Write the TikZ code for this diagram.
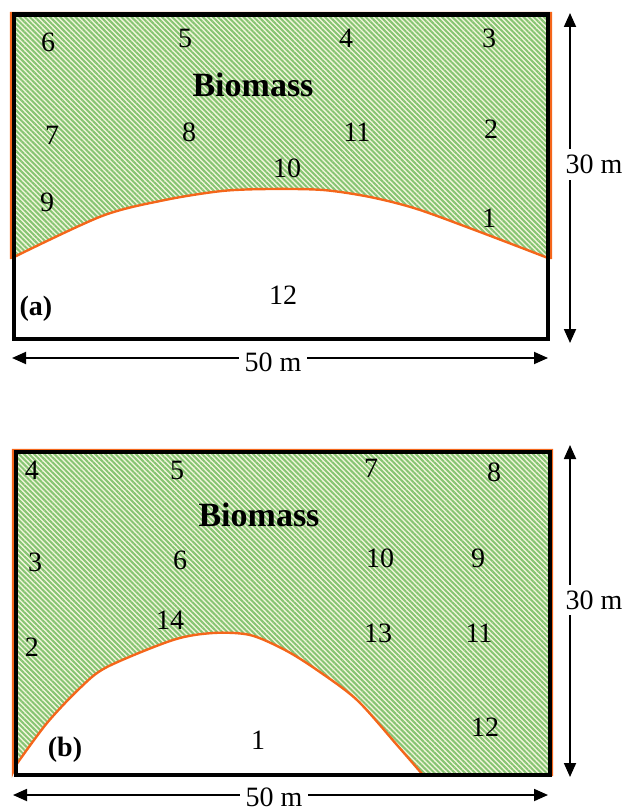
\documentclass[tikz,border=0pt]{standalone}
\usepackage{fontspec}
\setmainfont{Liberation Serif}
\usetikzlibrary{patterns.meta,arrows.meta}
\definecolor{biomass-green}{HTML}{86C472}
\definecolor{biomass-cream}{HTML}{F3F6DC}
\definecolor{edge-orange}{HTML}{F4661B}

\begin{document}
\begin{tikzpicture}[x=0.5pt, y=-0.5pt,
    every node/.style={font=\fontsize{14}{16}\selectfont, inner sep=1pt},
    hatch/.style={preaction={fill=biomass-cream},
      pattern={Lines[angle=-45,distance=1.8pt,line width=1pt]}, pattern color=biomass-green,
      draw=edge-orange, line width=1.2pt},
    frame/.style={draw=black, line width=2.3pt},
    dim/.style={{Triangle[length=7pt,width=6pt]}-{Triangle[length=7pt,width=6pt]}, line width=0.9pt},
    gap/.style={fill=white, inner sep=3pt},
    title/.style={font=\fontsize{17}{20}\selectfont\bfseries}]
  \useasboundingbox (0,0) rectangle (624,812);
  % (a)
  \path[hatch] (11,13) -- (551,13) -- (551,258)
    -- plot[smooth, tension=0.5] coordinates {(548,258) (480,232) (417,209) (370,197) (323,190)
       (270,189) (222,191) (165,200) (102,216) (12,258)} -- (11,258) -- cycle;
  \draw[frame] (14,14.5) rectangle (548,339);
  \node[title] (a-bio) at (253,85) {Biomass};
  \node (a6) at (48,42) {6};
  \node (a5) at (185,38) {5};
  \node (a4) at (346,38) {4};
  \node (a3) at (489,38) {3};
  \node (a7) at (52,135) {7};
  \node (a8) at (189,132) {8};
  \node (a11) at (357,132) {11};
  \node (a2) at (491,129) {2};
  \node (a10) at (287,168) {10};
  \node (a9) at (47,202) {9};
  \node (a1) at (489,218) {1};
  \node (a12) at (283,295) {12};
  \node[font=\fontsize{14}{16}\selectfont\bfseries] (a-tag) at (36,309) {(a)};
  \coordinate (a-top) at (570,13);
  \coordinate (a-bot) at (570,343);
  \coordinate (a-left) at (12,358);
  \coordinate (a-right) at (548,358);
  \draw[dim] (a-top) -- node[gap, pos=0.458, xshift=12pt] (a-h) {30 m} (a-bot);
  \draw[dim] (a-left) -- node[gap, pos=0.487, yshift=-2pt] (a-w) {50 m} (a-right);
  % (b)
  \path[hatch] (13,450) -- (552,450) -- (552,775) -- (423,775)
    -- plot[smooth, tension=0.5] coordinates {(423,775) (397,745) (357,700) (317,670) (285,650)
       (250,635) (213,633) (173,640) (107,667) (80,688) (47,723) (16,765)} -- (13,772) -- cycle;
  \draw[frame] (16,452) rectangle (550,775);
  \node[title] (b-bio) at (259,515) {Biomass};
  \node (b4) at (32,470) {4};
  \node (b5) at (177,470) {5};
  \node (b7) at (371,468) {7};
  \node (b8) at (494,472) {8};
  \node (b3) at (35,562) {3};
  \node (b6) at (180,560) {6};
  \node (b10) at (380,558) {10};
  \node (b9) at (478,558) {9};
  \node (b14) at (170,620) {14};
  \node (b2) at (32,647) {2};
  \node (b13) at (378,633) {13};
  \node (b11) at (479,633) {11};
  \node (b12) at (485,727) {12};
  \node (b1) at (258,740) {1};
  \node[font=\fontsize{14}{16}\selectfont\bfseries] (b-tag) at (65,750) {(b)};
  \coordinate (b-top) at (570,445);
  \coordinate (b-bot) at (570,777);
  \coordinate (b-left) at (13,795);
  \coordinate (b-right) at (548,795);
  \draw[dim] (b-top) -- node[gap, pos=0.467, xshift=12pt] (b-h) {30 m} (b-bot);
  \draw[dim] (b-left) -- node[gap, pos=0.488, yshift=-1pt] (b-w) {50 m} (b-right);
\end{tikzpicture}
\end{document}
